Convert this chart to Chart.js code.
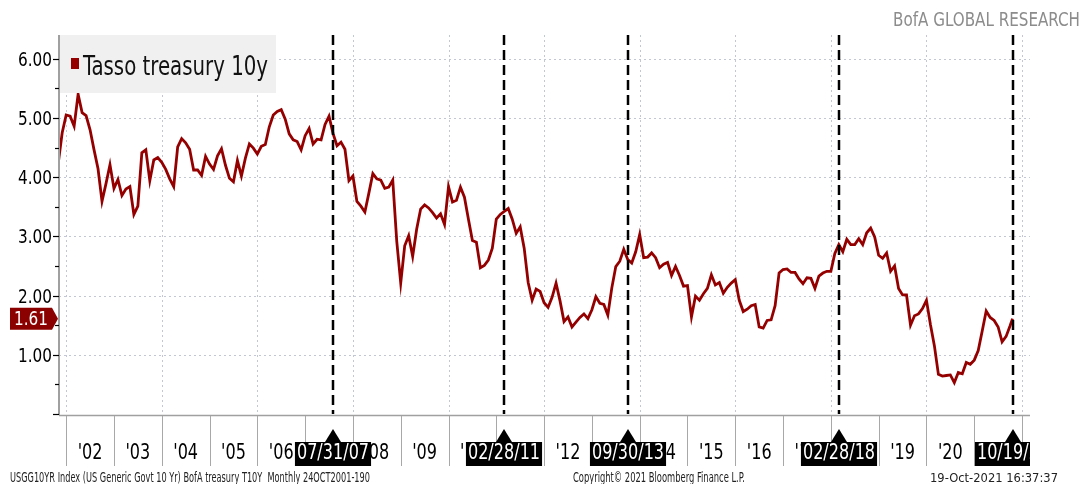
<!DOCTYPE html>
<html lang="it">
<head>
<meta charset="UTF-8">
<title>Tasso treasury 10y</title>
<style>
  body { margin: 0; background: #fff; }
  #wrap { width: 1086px; height: 484px; }
</style>
</head>
<body>
<div id="wrap"><canvas id="myChart" width="1086" height="484"></canvas></div>
<script src="https://cdn.jsdelivr.net/npm/chart.js"></script>
<script>
// month-end yields, first point Oct 2001
const r2001 = [4.23, 4.75, 5.05];
const r2002 = [5.03, 4.86, 5.40, 5.09, 5.04, 4.80, 4.46, 4.14, 3.59, 3.89, 4.21, 3.81];
const r2003 = [3.96, 3.69, 3.80, 3.84, 3.37, 3.51, 4.41, 4.46, 3.94, 4.29, 4.33, 4.25];
const r2004 = [4.13, 3.97, 3.84, 4.51, 4.65, 4.58, 4.47, 4.12, 4.12, 4.03, 4.35, 4.22];
const r2005 = [4.13, 4.36, 4.48, 4.20, 3.98, 3.92, 4.28, 4.02, 4.32, 4.56, 4.49, 4.39];
const r2006 = [4.52, 4.55, 4.85, 5.05, 5.11, 5.14, 4.98, 4.73, 4.63, 4.60, 4.46, 4.70];
const r2007 = [4.82, 4.56, 4.64, 4.63, 4.89, 5.03, 4.74, 4.53, 4.59, 4.47, 3.94, 4.02];
const r2008 = [3.59, 3.51, 3.41, 3.73, 4.06, 3.97, 3.95, 3.81, 3.83, 3.95, 2.92, 2.21];
const r2009 = [2.84, 3.01, 2.66, 3.12, 3.46, 3.53, 3.48, 3.40, 3.31, 3.38, 3.20, 3.84];
const r2010 = [3.58, 3.61, 3.83, 3.66, 3.29, 2.93, 2.90, 2.47, 2.51, 2.60, 2.80, 3.29];
const r2011 = [3.37, 3.42, 3.47, 3.29, 3.05, 3.16, 2.80, 2.22, 1.92, 2.11, 2.07, 1.88];
const r2012 = [1.80, 1.97, 2.21, 1.91, 1.56, 1.64, 1.47, 1.55, 1.63, 1.69, 1.61, 1.76];
const r2013 = [1.98, 1.87, 1.85, 1.67, 2.13, 2.49, 2.58, 2.78, 2.61, 2.55, 2.74, 3.03];
const r2014 = [2.64, 2.65, 2.72, 2.64, 2.47, 2.53, 2.56, 2.34, 2.49, 2.34, 2.16, 2.17];
const r2015 = [1.64, 1.99, 1.92, 2.03, 2.12, 2.35, 2.18, 2.22, 2.04, 2.14, 2.21, 2.27];
const r2016 = [1.92, 1.73, 1.77, 1.83, 1.85, 1.47, 1.45, 1.58, 1.59, 1.83, 2.38, 2.44];
const r2017 = [2.45, 2.39, 2.39, 2.28, 2.20, 2.30, 2.29, 2.12, 2.33, 2.38, 2.41, 2.41];
const r2018 = [2.71, 2.86, 2.74, 2.95, 2.86, 2.86, 2.96, 2.86, 3.06, 3.14, 2.99, 2.68];
const r2019 = [2.63, 2.72, 2.41, 2.50, 2.12, 2.01, 2.01, 1.50, 1.66, 1.69, 1.78, 1.92];
const r2020 = [1.51, 1.15, 0.67, 0.64, 0.65, 0.66, 0.53, 0.70, 0.68, 0.87, 0.84, 0.91];
const r2021 = [1.07, 1.40, 1.74, 1.63, 1.58, 1.47, 1.22, 1.31, 1.49, 1.61];

const yearLabels = ["'02", "'03", "'04", "'05", "'06", "'07", "'08", "'09", "'10", "'11",
                    "'12", "'13", "'14", "'15", "'16", "'17", "'18", "'19", "'20", "'21"];
const markerDates = ['07/31/07', '02/28/11', '09/30/13', '02/28/18', '10/19/21'];
const lastDate = '10/19/21';
const lastValue = '1.61';
const yTicks = [0, 0.5, 1, 1.5, 2, 2.5, 3, 3.5, 4, 4.5, 5, 5.5, 6];
const yLabels = ['', '', '1.00', '', '2.00', '', '3.00', '', '4.00', '', '5.00', '', '6.00'];

const FONT = "'Liberation Sans Narrow', 'DejaVu Sans Condensed', 'Arial Narrow', sans-serif";
const RED = '#940000';
const GRID = '#c3c7d3';

// months counted from 1 Jan 2002
function dateToMonth(s) {
    const [mm, dd, yy] = s.split('/').map(Number);
    const days = new Date(2000 + yy, mm, 0).getDate();
    return (2000 + yy - 2002) * 12 + (mm - 1) + dd / days;
}

// squeeze text horizontally (no narrow font available)
function narrowText(ctx, text, x, y, align, sx, width) {
    ctx.save();
    ctx.translate(x, y);
    if (width) sx = width / ctx.measureText(text).width;
    ctx.scale(sx, 1);
    ctx.textAlign = align;
    ctx.fillText(text, 0, 0);
    ctx.restore();
}

const allRates = [r2001, r2002, r2003, r2004, r2005, r2006, r2007, r2008, r2009, r2010, r2011,
                  r2012, r2013, r2014, r2015, r2016, r2017, r2018, r2019, r2020, r2021].flat();
const points = allRates.map((v, i) => ({ x: i - 2, y: v }));
points[points.length - 1].x = dateToMonth(lastDate);

const overlay = {
    id: 'overlay',
    beforeDatasetsDraw(chart) {
        const { ctx, chartArea: a, scales: { x, y } } = chart;
        ctx.save();
        ctx.strokeStyle = GRID;
        ctx.lineWidth = 1;
        ctx.setLineDash([2, 3]);
        // dotted grid: every 2 years, every whole percent
        for (let m = 0; m <= 240; m += 24) {
            const px = Math.round(x.getPixelForValue(m)) + 0.5;
            ctx.beginPath();
            ctx.moveTo(px, a.top);
            ctx.lineTo(px, a.bottom);
            ctx.stroke();
        }
        yTicks.forEach((v, i) => {
            if (!yLabels[i]) return;
            const py = Math.round(y.getPixelForValue(v)) + 0.5;
            ctx.beginPath();
            ctx.moveTo(a.left, py);
            ctx.lineTo(a.right, py);
            ctx.stroke();
        });
        ctx.restore();
    },
    afterDatasetsDraw(chart) {
        const { ctx, chartArea: a, scales: { x } } = chart;
        ctx.save();
        ctx.strokeStyle = '#000';
        ctx.lineWidth = 2.5;
        ctx.setLineDash([10, 5]);
        markerDates.forEach(d => {
            const px = Math.round(x.getPixelForValue(dateToMonth(d)));
            ctx.beginPath();
            ctx.moveTo(px, a.top);
            ctx.lineTo(px, a.bottom);
            ctx.stroke();
        });
        ctx.restore();
    },
    afterDraw(chart) {
        const { ctx, chartArea: a, scales: { x, y } } = chart;
        ctx.save();

        // axis lines
        ctx.strokeStyle = '#a0a0a0';
        ctx.lineWidth = 2;
        ctx.beginPath();
        ctx.moveTo(a.left, a.top);
        ctx.lineTo(a.left, a.bottom + 1);
        ctx.stroke();
        ctx.lineWidth = 1.5;
        ctx.beginPath();
        ctx.moveTo(a.left, a.bottom + 1.5);
        ctx.lineTo(a.right, a.bottom + 1.5);
        ctx.stroke();

        // y ticks and labels
        ctx.strokeStyle = '#000';
        ctx.lineWidth = 1.2;
        ctx.fillStyle = '#000';
        ctx.font = '20px ' + FONT;
        ctx.textBaseline = 'middle';
        yTicks.forEach((v, i) => {
            const py = Math.round(y.getPixelForValue(v)) + 0.5;
            ctx.beginPath();
            ctx.moveTo(a.left - (yLabels[i] || v === 0 ? 6 : 4), py);
            ctx.lineTo(a.left, py);
            ctx.stroke();
            if (yLabels[i]) narrowText(ctx, yLabels[i], 52, py + 1, 'right', 0.85);
        });

        // year separators and labels under the axis
        ctx.strokeStyle = '#a8a8a8';
        ctx.lineWidth = 1;
        for (let m = 0; m <= 240; m += 12) {
            const px = Math.round(x.getPixelForValue(m)) + 0.5;
            ctx.beginPath();
            ctx.moveTo(px, a.bottom + 2);
            ctx.lineTo(px, 466);
            ctx.stroke();
        }
        ctx.font = '21px ' + FONT;
        yearLabels.forEach((lab, k) => {
            narrowText(ctx, lab, x.getPixelForValue(k * 12 + 6), 454, 'center', 0.85);
        });

        // date boxes with arrow
        ctx.save();
        ctx.beginPath();
        ctx.rect(0, a.bottom + 2, a.right, 70);
        ctx.clip();
        markerDates.forEach(d => {
            const px = Math.round(x.getPixelForValue(dateToMonth(d)));
            const w = ctx.measureText(d).width * 0.85 + 4;
            ctx.fillStyle = '#000';
            ctx.beginPath();
            ctx.moveTo(px, 429);
            ctx.lineTo(px + 8, 442);
            ctx.lineTo(px - 8, 442);
            ctx.closePath();
            ctx.fill();
            ctx.fillRect(px - w / 2, 442, w, 24);
            ctx.fillStyle = '#fff';
            narrowText(ctx, d, px, 454, 'center', 0.85);
        });
        ctx.restore();

        // legend
        ctx.fillStyle = '#f0f0f0';
        ctx.fillRect(a.left + 1, a.top, 216, 58);
        ctx.fillStyle = RED;
        ctx.fillRect(71, 58, 8, 11);
        ctx.fillStyle = '#111';
        ctx.font = '26px ' + FONT;
        ctx.textBaseline = 'alphabetic';
        narrowText(ctx, chart.data.datasets[0].label, 83, 75, 'left', 1, 185);

        // last value tag
        const ly = y.getPixelForValue(allRates[allRates.length - 1]);
        ctx.fillStyle = '#8b0000';
        ctx.beginPath();
        ctx.moveTo(10, ly - 11);
        ctx.lineTo(52, ly - 11);
        ctx.lineTo(58, ly);
        ctx.lineTo(52, ly + 11);
        ctx.lineTo(10, ly + 11);
        ctx.closePath();
        ctx.fill();
        ctx.fillStyle = '#fff';
        ctx.font = '20px ' + FONT;
        ctx.textBaseline = 'middle';
        narrowText(ctx, lastValue, 31, ly + 1, 'center', 0.85);

        // brand
        ctx.fillStyle = '#8c8c8c';
        ctx.font = '19px ' + FONT;
        ctx.textBaseline = 'alphabetic';
        narrowText(ctx, 'BofA GLOBAL RESEARCH', 1080, 26, 'right', 1, 187);

        // footer
        ctx.fillStyle = '#222';
        ctx.font = '14px ' + FONT;
        narrowText(ctx, 'USGG10YR Index (US Generic Govt 10 Yr) BofA treasury T10Y  Monthly 24OCT2001-190', 10, 482, 'left', 1, 360);
        narrowText(ctx, 'Copyright\u00a9 2021 Bloomberg Finance L.P.', 573, 482, 'left', 1, 172);
        ctx.font = '13px ' + FONT;
        narrowText(ctx, '19-Oct-2021 16:37:37', 1058, 482, 'right', 1, 128);
        ctx.restore();
    }
};

const ctx = document.getElementById('myChart').getContext('2d');
const chart = new Chart(ctx, {
    type: 'line',
    data: {
        datasets: [{
            label: 'Tasso treasury 10y',
            data: points,
            borderColor: RED,
            borderWidth: 2.8,
            pointRadius: 0,
            fill: false,
            tension: 0
        }]
    },
    options: {
        responsive: false,
        animation: false,
        layout: { padding: { top: 35, right: 56, left: 0, bottom: 0 } },
        plugins: { legend: { display: false }, tooltip: { enabled: false } },
        scales: {
            x: {
                type: 'linear',
                min: -1.8,
                max: 242,
                afterFit(scale) { scale.height = 70; },
                border: { display: false },
                grid: { display: false },
                ticks: { display: false }
            },
            y: {
                min: 0,
                max: 6.4,
                afterFit(scale) { scale.width = 59; },
                border: { display: false },
                grid: { display: false },
                ticks: { display: false }
            }
        }
    },
    plugins: [overlay]
});
</script>
</body>
</html>
